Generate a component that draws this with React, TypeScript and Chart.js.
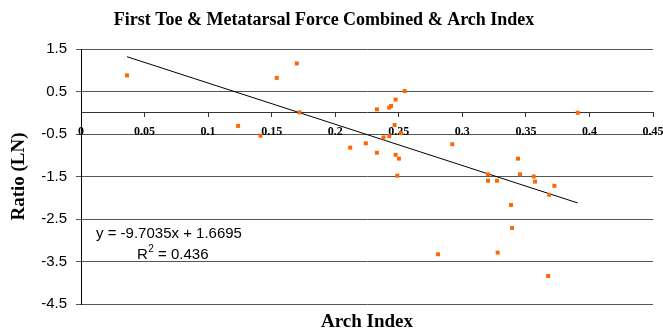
import React, { useEffect, useRef } from 'react';
import { Chart, registerables } from 'chart.js';

Chart.register(...registerables);

const chartTitle = 'First Toe & Metatarsal Force Combined & Arch Index';
const xAxisTitle = 'Arch Index';
const yAxisTitle = 'Ratio (LN)';

const archIndex = [
  0.0362, 0.1236, 0.1412, 0.154, 0.1698, 0.1719,
  0.2546, 0.2475, 0.2439, 0.2425, 0.2328, 0.3908,
  0.2467, 0.2517, 0.2425, 0.238, 0.2241, 0.2118,
  0.2328, 0.2475, 0.2501, 0.2921, 0.2488, 0.3438,
  0.3202, 0.3202, 0.3273, 0.3454, 0.3562, 0.3572,
  0.3724, 0.3683, 0.3383, 0.3391, 0.2809, 0.3278, 0.3675,
];
const ratioLN = [
  0.88, -0.31, -0.54, 0.82, 1.16, 0.01,
  0.51, 0.31, 0.16, 0.12, 0.08, 0.0,
  -0.29, -0.48, -0.55, -0.58, -0.72, -0.82,
  -0.94, -0.99, -1.08, -0.74, -1.48, -1.08,
  -1.45, -1.6, -1.6, -1.45, -1.5, -1.62,
  -1.72, -1.93, -2.17, -2.71, -3.33, -3.29, -3.84,
];

const trendSlope = -9.7035;
const trendIntercept = 1.6695;
const equationText = 'y = -9.7035x + 1.6695';
const rSquaredText = '0.436';

const xTicks = [0, 0.05, 0.1, 0.15, 0.2, 0.25, 0.3, 0.35, 0.4, 0.45];
const xTickLabels = ['0', '0.05', '0.1', '0.15', '0.2', '0.25', '0.3', '0.35', '0.4', '0.45'];
const yTicks = [-4.5, -3.5, -2.5, -1.5, -0.5, 0.5, 1.5];
const yTickLabels = ['-4.5', '-3.5', '-2.5', '-1.5', '-0.5', '0.5', '1.5'];

const SERIF = '"Liberation Serif", "Times New Roman", Times, serif';
const SANS = '"Liberation Sans", Arial, Helvetica, sans-serif';

const textPlugin = {
  id: 'extraTexts',
  afterDraw(chart: any) {
    const ctx = chart.ctx;
    const ca = chart.chartArea;
    ctx.save();
    ctx.fillStyle = '#000';
    ctx.textBaseline = 'middle';
    ctx.textAlign = 'center';
    ctx.font = `bold 18px ${SERIF}`;
    ctx.fillText(chartTitle, 324, 20);
    ctx.font = `bold 19px ${SERIF}`;
    ctx.fillText(xAxisTitle, (ca.left + ca.right) / 2, 322);

    ctx.textAlign = 'left';
    ctx.font = `15px ${SANS}`;
    ctx.fillText(equationText, 96, 234);
    let x = 137;
    ctx.fillText('R', x, 255);
    x += ctx.measureText('R').width;
    ctx.font = `10px ${SANS}`;
    ctx.fillText('2', x + 0.5, 249);
    x += ctx.measureText('2').width + 0.5;
    ctx.font = `15px ${SANS}`;
    ctx.fillText(' = ' + rSquaredText, x, 255);
    ctx.restore();
  },
};

export default function App() {
  const canvasRef = useRef<HTMLCanvasElement | null>(null);

  useEffect(() => {
    if (!canvasRef.current) return;
    const points = archIndex.map((x, i) => ({ x, y: ratioLN[i] }));
    const xMin = Math.min(...archIndex);
    const xMax = Math.max(...archIndex);
    const trend = [
      { x: xMin, y: trendSlope * xMin + trendIntercept },
      { x: xMax, y: trendSlope * xMax + trendIntercept },
    ];

    const chart = new Chart(canvasRef.current, {
      type: 'scatter',
      data: {
        datasets: [
          {
            label: 'Data',
            data: points,
            pointStyle: 'rect',
            pointRadius: 2.8,
            pointBorderWidth: 0,
            backgroundColor: '#FF6600',
            borderColor: '#FF6600',
            showLine: false,
          },
          {
            label: 'Trend',
            data: trend,
            showLine: true,
            borderColor: '#000',
            borderWidth: 1,
            pointRadius: 0,
            fill: false,
          },
        ],
      },
      options: {
        responsive: false,
        animation: false,
        layout: { padding: { top: 49, bottom: 29, left: 0, right: 10 } },
        plugins: {
          legend: { display: false },
          tooltip: { enabled: false },
          title: { display: false },
        },
        scales: {
          x: {
            type: 'linear',
            position: { y: 0 } as any,
            min: 0,
            max: 0.45,
            afterBuildTicks: (scale: any) => {
              scale.ticks = xTicks.map((v) => ({ value: v }));
            },
            afterFit: (scale: any) => {
              scale.height = 0;
              scale.paddingLeft = 0;
              scale.paddingRight = 0;
            },
            ticks: {
              autoSkip: false,
              maxRotation: 0,
              padding: 8,
              color: '#000',
              font: { family: SERIF, size: 12, weight: 'bold' },
              callback: (_v: any, i: number) => xTickLabels[i],
            },
            grid: {
              drawOnChartArea: false,
              drawTicks: true,
              tickLength: 4,
              color: '#333',
            },
            border: { display: true, color: '#333', width: 1 },
          },
          y: {
            type: 'linear',
            min: -4.5,
            max: 1.5,
            afterBuildTicks: (scale: any) => {
              scale.ticks = yTicks.map((v) => ({ value: v }));
            },
            afterFit: (scale: any) => {
              scale.width = 81;
              scale.paddingTop = 0;
              scale.paddingBottom = 0;
            },
            ticks: {
              autoSkip: false,
              padding: 9,
              color: '#000',
              font: { family: SANS, size: 15 },
              callback: (_v: any, i: number) => yTickLabels[i],
            },
            grid: {
              color: '#555',
              lineWidth: 1,
              drawTicks: true,
              tickLength: 5,
            },
            border: { display: true, color: '#000', width: 1 },
            title: {
              display: true,
              text: yAxisTitle,
              color: '#000',
              font: { family: SERIF, size: 19, weight: 'bold' },
              padding: { top: 8, bottom: 0 },
            },
          },
        },
      },
      plugins: [textPlugin],
    } as any);

    return () => chart.destroy();
  }, []);

  return (
    <div style={{ position: 'absolute', left: 0, top: 0, width: 663, height: 333, background: '#fff' }}>
      <canvas ref={canvasRef} width={663} height={333} style={{ display: 'block' }} />
    </div>
  );
}
